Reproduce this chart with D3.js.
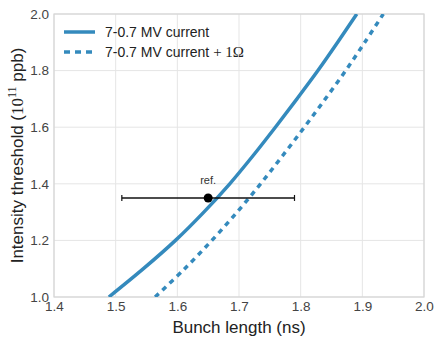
<!DOCTYPE html>
<html>
<head>
<meta charset="utf-8">
<script src="https://cdn.jsdelivr.net/npm/d3@7"></script>
<style>
  body { margin: 0; background: #fff; }
  text { font-family: "Liberation Sans", Arial, sans-serif; }
</style>
</head>
<body>
<script>
// intensity (1e11 ppb) and the bunch length where each curve hits it
var intensity   = [1.0, 1.1, 1.2, 1.3, 1.4, 1.5, 1.6, 1.7, 1.8, 1.9, 2.0];
var lenCurrent  = [1.489, 1.545, 1.597, 1.643, 1.685, 1.723, 1.759, 1.794, 1.828, 1.860, 1.891];
var lenPlus1Ohm = [1.564, 1.612, 1.656, 1.697, 1.735, 1.771, 1.806, 1.840, 1.873, 1.904, 1.934];

var refPoint = { x: 1.65, y: 1.35, xerr: 0.14 };
var xTicks = [1.4, 1.5, 1.6, 1.7, 1.8, 1.9, 2.0];
var yTicks = [1.0, 1.2, 1.4, 1.6, 1.8, 2.0];

var W = 435, H = 337;
var m = { left: 54, right: 11, top: 14, bottom: 40 };
var blue = "#348ABD";

var svg = d3.select("body").append("svg")
    .attr("width", W)
    .attr("height", H);

var x = d3.scaleLinear().domain([1.4, 2.0]).range([m.left, W - m.right]);
var y = d3.scaleLinear().domain([1.0, 2.0]).range([H - m.bottom, m.top]);

// grid
svg.append("g").selectAll("line").data(xTicks).join("line")
    .attr("x1", d => x(d)).attr("x2", d => x(d))
    .attr("y1", m.top).attr("y2", H - m.bottom)
    .attr("stroke", "#e5e5e5").attr("stroke-width", 1);
svg.append("g").selectAll("line").data(yTicks).join("line")
    .attr("y1", d => y(d)).attr("y2", d => y(d))
    .attr("x1", m.left).attr("x2", W - m.right)
    .attr("stroke", "#e5e5e5").attr("stroke-width", 1);

// frame
svg.append("rect")
    .attr("x", m.left).attr("y", m.top)
    .attr("width", W - m.left - m.right).attr("height", H - m.top - m.bottom)
    .attr("fill", "none").attr("stroke", "#d6d6d6").attr("stroke-width", 1.2);

// axes (labels only)
var xAxis = svg.append("g")
    .attr("transform", "translate(0," + (H - m.bottom) + ")")
    .call(d3.axisBottom(x).tickValues(xTicks).tickFormat(d3.format(".1f")).tickSize(0).tickPadding(4));
var yAxis = svg.append("g")
    .attr("transform", "translate(" + m.left + ",0)")
    .call(d3.axisLeft(y).tickValues(yTicks).tickFormat(d3.format(".1f")).tickSize(0).tickPadding(5));
[xAxis, yAxis].forEach(function(a) {
  a.select(".domain").remove();
  a.selectAll("text")
    .attr("font-family", "Liberation Sans, Arial, sans-serif")
    .attr("font-size", 13.5)
    .attr("fill", "#444");
});

// curves, clipped to the plot area
svg.append("clipPath").attr("id", "clip")
  .append("rect")
    .attr("x", m.left).attr("y", m.top)
    .attr("width", W - m.left - m.right).attr("height", H - m.top - m.bottom);

var line = d3.line()
    .x(d => x(d[0]))
    .y(d => y(d[1]))
    .curve(d3.curveCatmullRom);

var plot = svg.append("g").attr("clip-path", "url(#clip)");
plot.append("path")
    .attr("d", line(d3.zip(lenCurrent, intensity)))
    .attr("fill", "none").attr("stroke", blue).attr("stroke-width", 3.5);
plot.append("path")
    .attr("d", line(d3.zip(lenPlus1Ohm, intensity)))
    .attr("fill", "none").attr("stroke", blue).attr("stroke-width", 3.5)
    .attr("stroke-dasharray", "5,5");

// reference point with error bar
var ref = svg.append("g");
ref.append("line")
    .attr("x1", x(refPoint.x - refPoint.xerr)).attr("x2", x(refPoint.x + refPoint.xerr))
    .attr("y1", y(refPoint.y)).attr("y2", y(refPoint.y))
    .attr("stroke", "#111").attr("stroke-width", 1.5);
[refPoint.x - refPoint.xerr, refPoint.x + refPoint.xerr].forEach(function(v) {
  ref.append("line")
    .attr("x1", x(v)).attr("x2", x(v))
    .attr("y1", y(refPoint.y) - 3).attr("y2", y(refPoint.y) + 3)
    .attr("stroke", "#111").attr("stroke-width", 1.2);
});
ref.append("circle")
    .attr("cx", x(refPoint.x)).attr("cy", y(refPoint.y)).attr("r", 4.5)
    .attr("fill", "#000");
ref.append("text")
    .attr("x", x(refPoint.x)).attr("y", y(refPoint.y) - 14)
    .attr("text-anchor", "middle")
    .attr("font-size", 11).attr("fill", "#333")
    .text("ref.");

// legend
var leg = svg.append("g");
leg.append("line").attr("x1", 64).attr("x2", 95).attr("y1", 32).attr("y2", 32)
    .attr("stroke", blue).attr("stroke-width", 3.5);
leg.append("line").attr("x1", 64).attr("x2", 95).attr("y1", 52).attr("y2", 52)
    .attr("stroke", blue).attr("stroke-width", 3.5).attr("stroke-dasharray", "6,5");
leg.append("text").attr("x", 105).attr("y", 37)
    .attr("font-size", 14).attr("fill", "#222")
    .text("7-0.7 MV current");
var t2 = leg.append("text").attr("x", 105).attr("y", 57)
    .attr("font-size", 14).attr("fill", "#222");
t2.append("tspan").text("7-0.7 MV current ");
t2.append("tspan").attr("font-family", "Liberation Serif, serif").attr("font-size", 15).text("+ 1Ω");

// axis labels
svg.append("text")
    .attr("x", (m.left + W - m.right) / 2).attr("y", 333)
    .attr("text-anchor", "middle")
    .attr("font-size", 17).attr("fill", "#222")
    .text("Bunch length (ns)");

var yl = svg.append("text")
    .attr("transform", "translate(23," + ((m.top + H - m.bottom) / 2) + ") rotate(-90)")
    .attr("text-anchor", "middle")
    .attr("font-size", 17).attr("fill", "#222");
yl.append("tspan").text("Intensity threshold (");
yl.append("tspan").attr("font-family", "Liberation Serif, serif").attr("font-size", 17).text("10");
yl.append("tspan").attr("font-family", "Liberation Serif, serif").attr("font-size", 12).attr("dy", -7).text("11");
yl.append("tspan").attr("dy", 7).text(" ppb)");
</script>
</body>
</html>
